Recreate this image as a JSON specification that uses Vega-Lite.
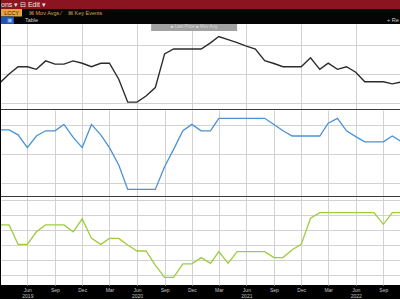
{
  "$schema": "https://vega.github.io/schema/vega-lite/v6.json",
  "background": "#000000",
  "padding": {"left": 0, "top": 0, "right": 0, "bottom": 1},
  "spacing": 0,
  "bounds": "flush",
  "config": {"view": {"stroke": null}, "font": "Liberation Sans", "concat": {"spacing": 0}},
  "resolve": {"scale": {"x": "independent", "y": "independent"}},
  "datasets": {
    "series": [
      {"date": "2019-03-01", "top": 1.69, "mid": 2.83, "bottom": 2.67},
      {"date": "2019-04-01", "top": 2.00, "mid": 2.83, "bottom": 2.67},
      {"date": "2019-05-01", "top": 2.25, "mid": 2.66, "bottom": 2.02},
      {"date": "2019-06-01", "top": 2.25, "mid": 2.22, "bottom": 2.02},
      {"date": "2019-07-01", "top": 2.16, "mid": 2.62, "bottom": 2.44},
      {"date": "2019-08-01", "top": 2.45, "mid": 2.80, "bottom": 2.67},
      {"date": "2019-09-01", "top": 2.34, "mid": 2.80, "bottom": 2.67},
      {"date": "2019-10-01", "top": 2.34, "mid": 3.02, "bottom": 2.67},
      {"date": "2019-11-01", "top": 2.45, "mid": 2.57, "bottom": 2.44},
      {"date": "2019-12-01", "top": 2.37, "mid": 2.22, "bottom": 2.87},
      {"date": "2020-01-01", "top": 2.25, "mid": 3.02, "bottom": 2.22},
      {"date": "2020-02-01", "top": 2.37, "mid": 2.66, "bottom": 2.02},
      {"date": "2020-03-01", "top": 2.37, "mid": 2.22, "bottom": 2.22},
      {"date": "2020-04-01", "top": 1.82, "mid": 1.62, "bottom": 2.22},
      {"date": "2020-05-01", "top": 1.03, "mid": 0.78, "bottom": 2.00},
      {"date": "2020-06-01", "top": 1.03, "mid": 0.78, "bottom": 1.80},
      {"date": "2020-07-01", "top": 1.24, "mid": 0.78, "bottom": 1.80},
      {"date": "2020-08-01", "top": 1.53, "mid": 0.78, "bottom": 1.33},
      {"date": "2020-09-01", "top": 2.69, "mid": 1.56, "bottom": 0.92},
      {"date": "2020-10-01", "top": 2.86, "mid": 2.16, "bottom": 0.92},
      {"date": "2020-11-01", "top": 2.86, "mid": 2.80, "bottom": 1.37},
      {"date": "2020-12-01", "top": 2.86, "mid": 3.02, "bottom": 1.37},
      {"date": "2021-01-01", "top": 2.86, "mid": 2.80, "bottom": 1.58},
      {"date": "2021-02-01", "top": 3.07, "mid": 2.80, "bottom": 1.39},
      {"date": "2021-03-01", "top": 3.29, "mid": 3.23, "bottom": 1.78},
      {"date": "2021-04-01", "top": 3.18, "mid": 3.23, "bottom": 1.39},
      {"date": "2021-05-01", "top": 3.08, "mid": 3.23, "bottom": 1.78},
      {"date": "2021-06-01", "top": 2.96, "mid": 3.23, "bottom": 1.78},
      {"date": "2021-07-01", "top": 2.86, "mid": 3.23, "bottom": 1.78},
      {"date": "2021-08-01", "top": 2.46, "mid": 3.23, "bottom": 1.78},
      {"date": "2021-09-01", "top": 2.36, "mid": 3.02, "bottom": 1.58},
      {"date": "2021-10-01", "top": 2.25, "mid": 2.80, "bottom": 1.58},
      {"date": "2021-11-01", "top": 2.25, "mid": 2.62, "bottom": 1.84},
      {"date": "2021-12-01", "top": 2.25, "mid": 2.62, "bottom": 2.02},
      {"date": "2022-01-01", "top": 2.56, "mid": 2.62, "bottom": 2.89},
      {"date": "2022-02-01", "top": 2.16, "mid": 2.62, "bottom": 3.08},
      {"date": "2022-03-01", "top": 2.37, "mid": 3.06, "bottom": 3.08},
      {"date": "2022-04-01", "top": 2.16, "mid": 3.23, "bottom": 3.08},
      {"date": "2022-05-01", "top": 2.25, "mid": 2.80, "bottom": 3.08},
      {"date": "2022-06-01", "top": 2.06, "mid": 2.60, "bottom": 3.08},
      {"date": "2022-07-01", "top": 1.73, "mid": 2.42, "bottom": 3.08},
      {"date": "2022-08-01", "top": 1.73, "mid": 2.42, "bottom": 3.08},
      {"date": "2022-09-01", "top": 1.73, "mid": 2.42, "bottom": 2.69},
      {"date": "2022-10-01", "top": 1.66, "mid": 2.62, "bottom": 3.08},
      {"date": "2022-11-01", "top": 1.73, "mid": 2.42, "bottom": 3.08}
    ]
  },
  "vconcat": [
    {
      "width": 400,
      "height": 9,
      "view": {"fill": "#8a1420", "stroke": null},
      "data": {"values": [{"item": "ons ▾"}, {"item": "⊟ Edit ▾"}]},
      "mark": {"type": "text", "align": "left", "baseline": "middle", "fontSize": 7, "color": "#f0e2e2"},
      "encoding": {
        "x": {"field": "item", "type": "nominal", "sort": null, "scale": {"type": "point", "range": [0, 19], "padding": 0}, "axis": null},
        "text": {"field": "item"}
      }
    },
    {
      "width": 400,
      "height": 15,
      "view": {"fill": "#050505", "stroke": null},
      "resolve": {"scale": {"x": "independent"}},
      "layer": [
        {
          "data": {"values": [{"tag": "LCCY", "row": "r1"}]},
          "mark": {"type": "rect", "color": "#e9a23b"},
          "encoding": {
            "x": {"field": "tag", "type": "nominal", "scale": {"type": "band", "range": [0, 21], "paddingInner": 0, "paddingOuter": 0}, "axis": null},
            "y": {"field": "row", "type": "nominal", "scale": {"type": "band", "domain": ["r1", "r2"], "paddingInner": 0, "paddingOuter": 0}, "axis": null}
          }
        },
        {
          "data": {"values": [{"tag": "LCCY", "row": "r1"}]},
          "mark": {"type": "text", "fontSize": 5.5, "color": "#3a2400", "baseline": "middle", "align": "center"},
          "encoding": {
            "x": {"field": "tag", "type": "nominal", "scale": {"type": "band", "range": [0, 21], "paddingInner": 0, "paddingOuter": 0}, "axis": null},
            "y": {"field": "row", "type": "nominal", "scale": {"type": "band", "domain": ["r1", "r2"], "paddingInner": 0, "paddingOuter": 0}, "axis": null},
            "text": {"field": "tag"}
          }
        },
        {
          "data": {"values": [{"tag": "⊡", "row": "r2"}]},
          "mark": {"type": "rect", "color": "#1c54b0"},
          "encoding": {
            "x": {"field": "tag", "type": "nominal", "scale": {"type": "band", "range": [0, 13], "paddingInner": 0, "paddingOuter": 0}, "axis": null},
            "y": {"field": "row", "type": "nominal", "scale": {"type": "band", "domain": ["r1", "r2"], "paddingInner": 0, "paddingOuter": 0}, "axis": null}
          }
        },
        {
          "data": {"values": [{"tag": "▣", "row": "r2"}]},
          "mark": {"type": "text", "fontSize": 5.5, "color": "#9cc0f5", "baseline": "middle", "align": "center"},
          "encoding": {
            "x": {"field": "tag", "type": "nominal", "scale": {"type": "band", "range": [2, 16], "paddingInner": 0, "paddingOuter": 0}, "axis": null},
            "y": {"field": "row", "type": "nominal", "scale": {"type": "band", "domain": ["r1", "r2"], "paddingInner": 0, "paddingOuter": 0}, "axis": null},
            "text": {"field": "tag"}
          }
        },
        {
          "data": {"values": [{"t": "⊠ Mov Avgs ⁄", "row": "r1"}, {"t": "⊠ Key Events", "row": "r1"}]},
          "mark": {"type": "text", "fontSize": 5.5, "color": "#d9a253", "baseline": "middle", "align": "left"},
          "encoding": {
            "x": {"field": "t", "type": "nominal", "sort": null, "scale": {"type": "point", "range": [28, 67], "padding": 0}, "axis": null},
            "y": {"field": "row", "type": "nominal", "scale": {"type": "band", "domain": ["r1", "r2"], "paddingInner": 0, "paddingOuter": 0}, "axis": null},
            "text": {"field": "t"}
          }
        },
        {
          "data": {"values": [{"t": "Table", "row": "r2"}, {"t": "+ Re", "row": "r2"}]},
          "mark": {"type": "text", "fontSize": 5.5, "color": "#d4d4d4", "baseline": "middle", "align": "left"},
          "encoding": {
            "x": {"field": "t", "type": "nominal", "sort": null, "scale": {"type": "point", "range": [24, 386], "padding": 0}, "axis": null},
            "y": {"field": "row", "type": "nominal", "scale": {"type": "band", "domain": ["r1", "r2"], "paddingInner": 0, "paddingOuter": 0}, "axis": null},
            "text": {"field": "t"}
          }
        }
      ]
    },
    {
      "width": 400,
      "height": 86,
      "view": {"fill": "#ffffff", "stroke": null},
      "layer": [
        {
          "data": {"name": "series"},
          "mark": {"type": "line", "color": "#2b2b2b", "strokeWidth": 1.4, "clip": true},
          "encoding": {
            "x": {"field": "date", "type": "temporal",
              "scale": {"domain": [{"year": 2019, "month": 3, "date": 5}, {"year": 2022, "month": 10, "date": 30}]},
              "axis": {"values": [{"year": 2019, "month": 6, "date": 1}, {"year": 2019, "month": 9, "date": 1}, {"year": 2019, "month": 12, "date": 1}, {"year": 2020, "month": 3, "date": 1}, {"year": 2020, "month": 6, "date": 1}, {"year": 2020, "month": 9, "date": 1}, {"year": 2020, "month": 12, "date": 1}, {"year": 2021, "month": 3, "date": 1}, {"year": 2021, "month": 6, "date": 1}, {"year": 2021, "month": 9, "date": 1}, {"year": 2021, "month": 12, "date": 1}, {"year": 2022, "month": 3, "date": 1}, {"year": 2022, "month": 6, "date": 1}, {"year": 2022, "month": 9, "date": 1}],
                "labels": false, "ticks": false, "domain": false, "title": null, "grid": true, "gridColor": "#d2d2d2", "gridWidth": 1}
            },
            "y": {"field": "top", "type": "quantitative",
              "scale": {"domain": [0.76, 3.72], "nice": false, "zero": false},
              "axis": {"values": [1, 1.5, 2, 2.5, 3, 3.5], "labels": false, "ticks": false, "domain": false, "title": null, "grid": true, "gridColor": "#d2d2d2", "gridWidth": 1}
            }
          }
        },
        {
          "data": {"values": [{"legend": "■ Last Price   ■ Mov Avg"}]},
          "mark": {"type": "rect", "color": "#a2a2a2"},
          "encoding": {
            "x": {"datum": {"year": 2020, "month": 7, "date": 18}, "type": "temporal"},
            "x2": {"datum": {"year": 2021, "month": 5, "date": 1}},
            "y": {"datum": 3.72, "type": "quantitative"},
            "y2": {"datum": 3.48}
          }
        },
        {
          "data": {"values": [{"legend": "■ Last Price   ■ Mov Avg"}]},
          "mark": {"type": "text", "color": "#d6d6d6", "fontSize": 4.5, "baseline": "middle", "align": "center"},
          "encoding": {
            "x": {"datum": {"year": 2020, "month": 12, "date": 8}, "type": "temporal"},
            "y": {"datum": 3.6, "type": "quantitative"},
            "text": {"field": "legend"}
          }
        },
        {
          "data": {"values": [{"edge": "bottom"}]},
          "mark": {"type": "rule", "color": "#3a3a3a", "strokeWidth": 2},
          "encoding": {"y": {"datum": 0.76, "type": "quantitative"}}
        }
      ]
    },
    {
      "width": 400,
      "height": 87,
      "view": {"fill": "#ffffff", "stroke": null},
      "layer": [
        {
          "data": {"name": "series"},
          "mark": {"type": "line", "color": "#4a92d6", "strokeWidth": 1.3, "clip": true},
          "encoding": {
            "x": {"field": "date", "type": "temporal",
              "scale": {"domain": [{"year": 2019, "month": 3, "date": 5}, {"year": 2022, "month": 10, "date": 30}]},
              "axis": {"values": [{"year": 2019, "month": 6, "date": 1}, {"year": 2019, "month": 9, "date": 1}, {"year": 2019, "month": 12, "date": 1}, {"year": 2020, "month": 3, "date": 1}, {"year": 2020, "month": 6, "date": 1}, {"year": 2020, "month": 9, "date": 1}, {"year": 2020, "month": 12, "date": 1}, {"year": 2021, "month": 3, "date": 1}, {"year": 2021, "month": 6, "date": 1}, {"year": 2021, "month": 9, "date": 1}, {"year": 2021, "month": 12, "date": 1}, {"year": 2022, "month": 3, "date": 1}, {"year": 2022, "month": 6, "date": 1}, {"year": 2022, "month": 9, "date": 1}],
                "labels": false, "ticks": false, "domain": false, "title": null, "grid": true, "gridColor": "#d2d2d2", "gridWidth": 1}
            },
            "y": {"field": "mid", "type": "quantitative",
              "scale": {"domain": [0.517, 3.517], "nice": false, "zero": false},
              "axis": {"values": [1, 1.5, 2, 2.5, 3, 3.5], "labels": false, "ticks": false, "domain": false, "title": null, "grid": true, "gridColor": "#d2d2d2", "gridWidth": 1}
            }
          }
        },
        {
          "data": {"values": [{"edge": "bottom"}]},
          "mark": {"type": "rule", "color": "#3a3a3a", "strokeWidth": 2},
          "encoding": {"y": {"datum": 0.517, "type": "quantitative"}}
        }
      ]
    },
    {
      "width": 400,
      "height": 88,
      "view": {"fill": "#ffffff", "stroke": null},
      "data": {"name": "series"},
      "mark": {"type": "line", "color": "#9ccd3c", "strokeWidth": 1.3, "clip": true},
      "encoding": {
        "x": {"field": "date", "type": "temporal",
          "scale": {"domain": [{"year": 2019, "month": 3, "date": 5}, {"year": 2022, "month": 10, "date": 30}]},
          "axis": {"values": [{"year": 2019, "month": 6, "date": 1}, {"year": 2019, "month": 9, "date": 1}, {"year": 2019, "month": 12, "date": 1}, {"year": 2020, "month": 3, "date": 1}, {"year": 2020, "month": 6, "date": 1}, {"year": 2020, "month": 9, "date": 1}, {"year": 2020, "month": 12, "date": 1}, {"year": 2021, "month": 3, "date": 1}, {"year": 2021, "month": 6, "date": 1}, {"year": 2021, "month": 9, "date": 1}, {"year": 2021, "month": 12, "date": 1}, {"year": 2022, "month": 3, "date": 1}, {"year": 2022, "month": 6, "date": 1}, {"year": 2022, "month": 9, "date": 1}],
            "labelExpr": "month(datum.value) == 5 ? [timeFormat(datum.value, '%b'), timeFormat(datum.value, '%Y')] : timeFormat(datum.value, '%b')",
            "labelColor": "#c4c4c4", "labelFontSize": 5, "labelLineHeight": 6, "labelPadding": 2, "labelOverlap": false, "labelFlush": false,
            "ticks": false, "domain": false, "title": null, "grid": true, "gridColor": "#d2d2d2", "gridWidth": 1}
        },
        "y": {"field": "bottom", "type": "quantitative",
          "scale": {"domain": [0.667, 3.6], "nice": false, "zero": false},
          "axis": {"values": [1, 1.5, 2, 2.5, 3, 3.5], "labels": false, "ticks": false, "domain": false, "title": null, "grid": true, "gridColor": "#d2d2d2", "gridWidth": 1}
        }
      }
    }
  ]
}
